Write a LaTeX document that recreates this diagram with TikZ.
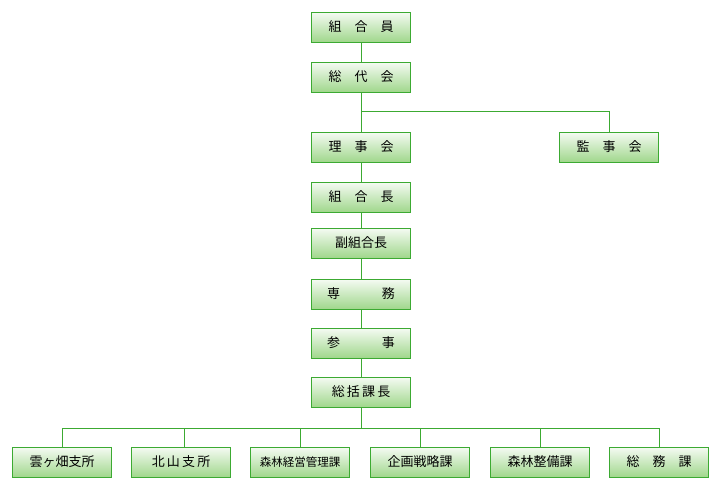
\documentclass[tikz,border=0pt]{standalone}
\usepackage{fontspec}
\setmainfont{Noto Sans CJK JP}
\definecolor{boxline}{RGB}{60,170,50}
\definecolor{boxlow}{RGB}{160,215,140}
\tikzset{
  unit/.style={draw=boxline, line width=1pt, top color=white!90!boxlow, bottom color=boxlow,
    minimum width=99pt, minimum height=30pt, inner sep=0pt, font=\fontsize{13}{13}\selectfont},
  link/.style={draw=boxline, line width=0.8pt}
}
\begin{document}
\begin{tikzpicture}[x=1pt,y=-1pt]
    \useasboundingbox (0,0) rectangle (720,490);
    % 本部の縦列
    \node[unit] (kumiaiin) at (361,27)  {組\quad 合\quad 員};
    \node[unit] (soudai)   at (361,77)  {総\quad 代\quad 会};
    \node[unit] (riji)     at (361,147) {理\quad 事\quad 会};
    \node[unit] (kansa)    at (609,147) {監\quad 事\quad 会};
    \node[unit] (kumicho)  at (361,197) {組\quad 合\quad 長};
    \node[unit] (fuku)     at (361,243) {副組合長};
    \node[unit] (senmu)    at (361,294) {専\hspace{3.2em}務};
    \node[unit] (sanji)    at (361,343) {参\hspace{3.2em}事};
    \node[unit] (soukatsu) at (361,392) {総\,括\,課\,長};
    % 支所・課
    \node[unit] (kumo)     at (62,462)  {雲ヶ畑支所};
    \node[unit] (kita)     at (181,462) {北\,山\,支\,所};
    \node[unit] (keiei)    at (300,462) {\fontsize{11.5}{11.5}\selectfont 森林経営管理課};
    \node[unit] (kikaku)   at (420,462) {企画戦略課};
    \node[unit] (seibi)    at (540,462) {森林整備課};
    \node[unit] (soumu)    at (659,462) {総\quad 務\quad 課};
    % 線
    \draw[link] (kumiaiin) -- (soudai);
    \draw[link] (soudai) -- (riji);
    \draw[link] (soudai.south) ++(0,19) -| (kansa.north);
    \draw[link] (riji) -- (kumicho);
    \draw[link] (kumicho) -- (fuku);
    \draw[link] (fuku) -- (senmu);
    \draw[link] (senmu) -- (sanji);
    \draw[link] (sanji) -- (soukatsu);
    \coordinate (bus) at (361,428);
    \draw[link] (soukatsu) -- (bus);
    \foreach \n/\x in {kumo/62, kita/184, keiei/300, kikaku/420, seibi/540, soumu/659}
      \draw[link] (bus) -| (\x,428) -- (\n.north -| \x,0);
\end{tikzpicture}
\end{document}
